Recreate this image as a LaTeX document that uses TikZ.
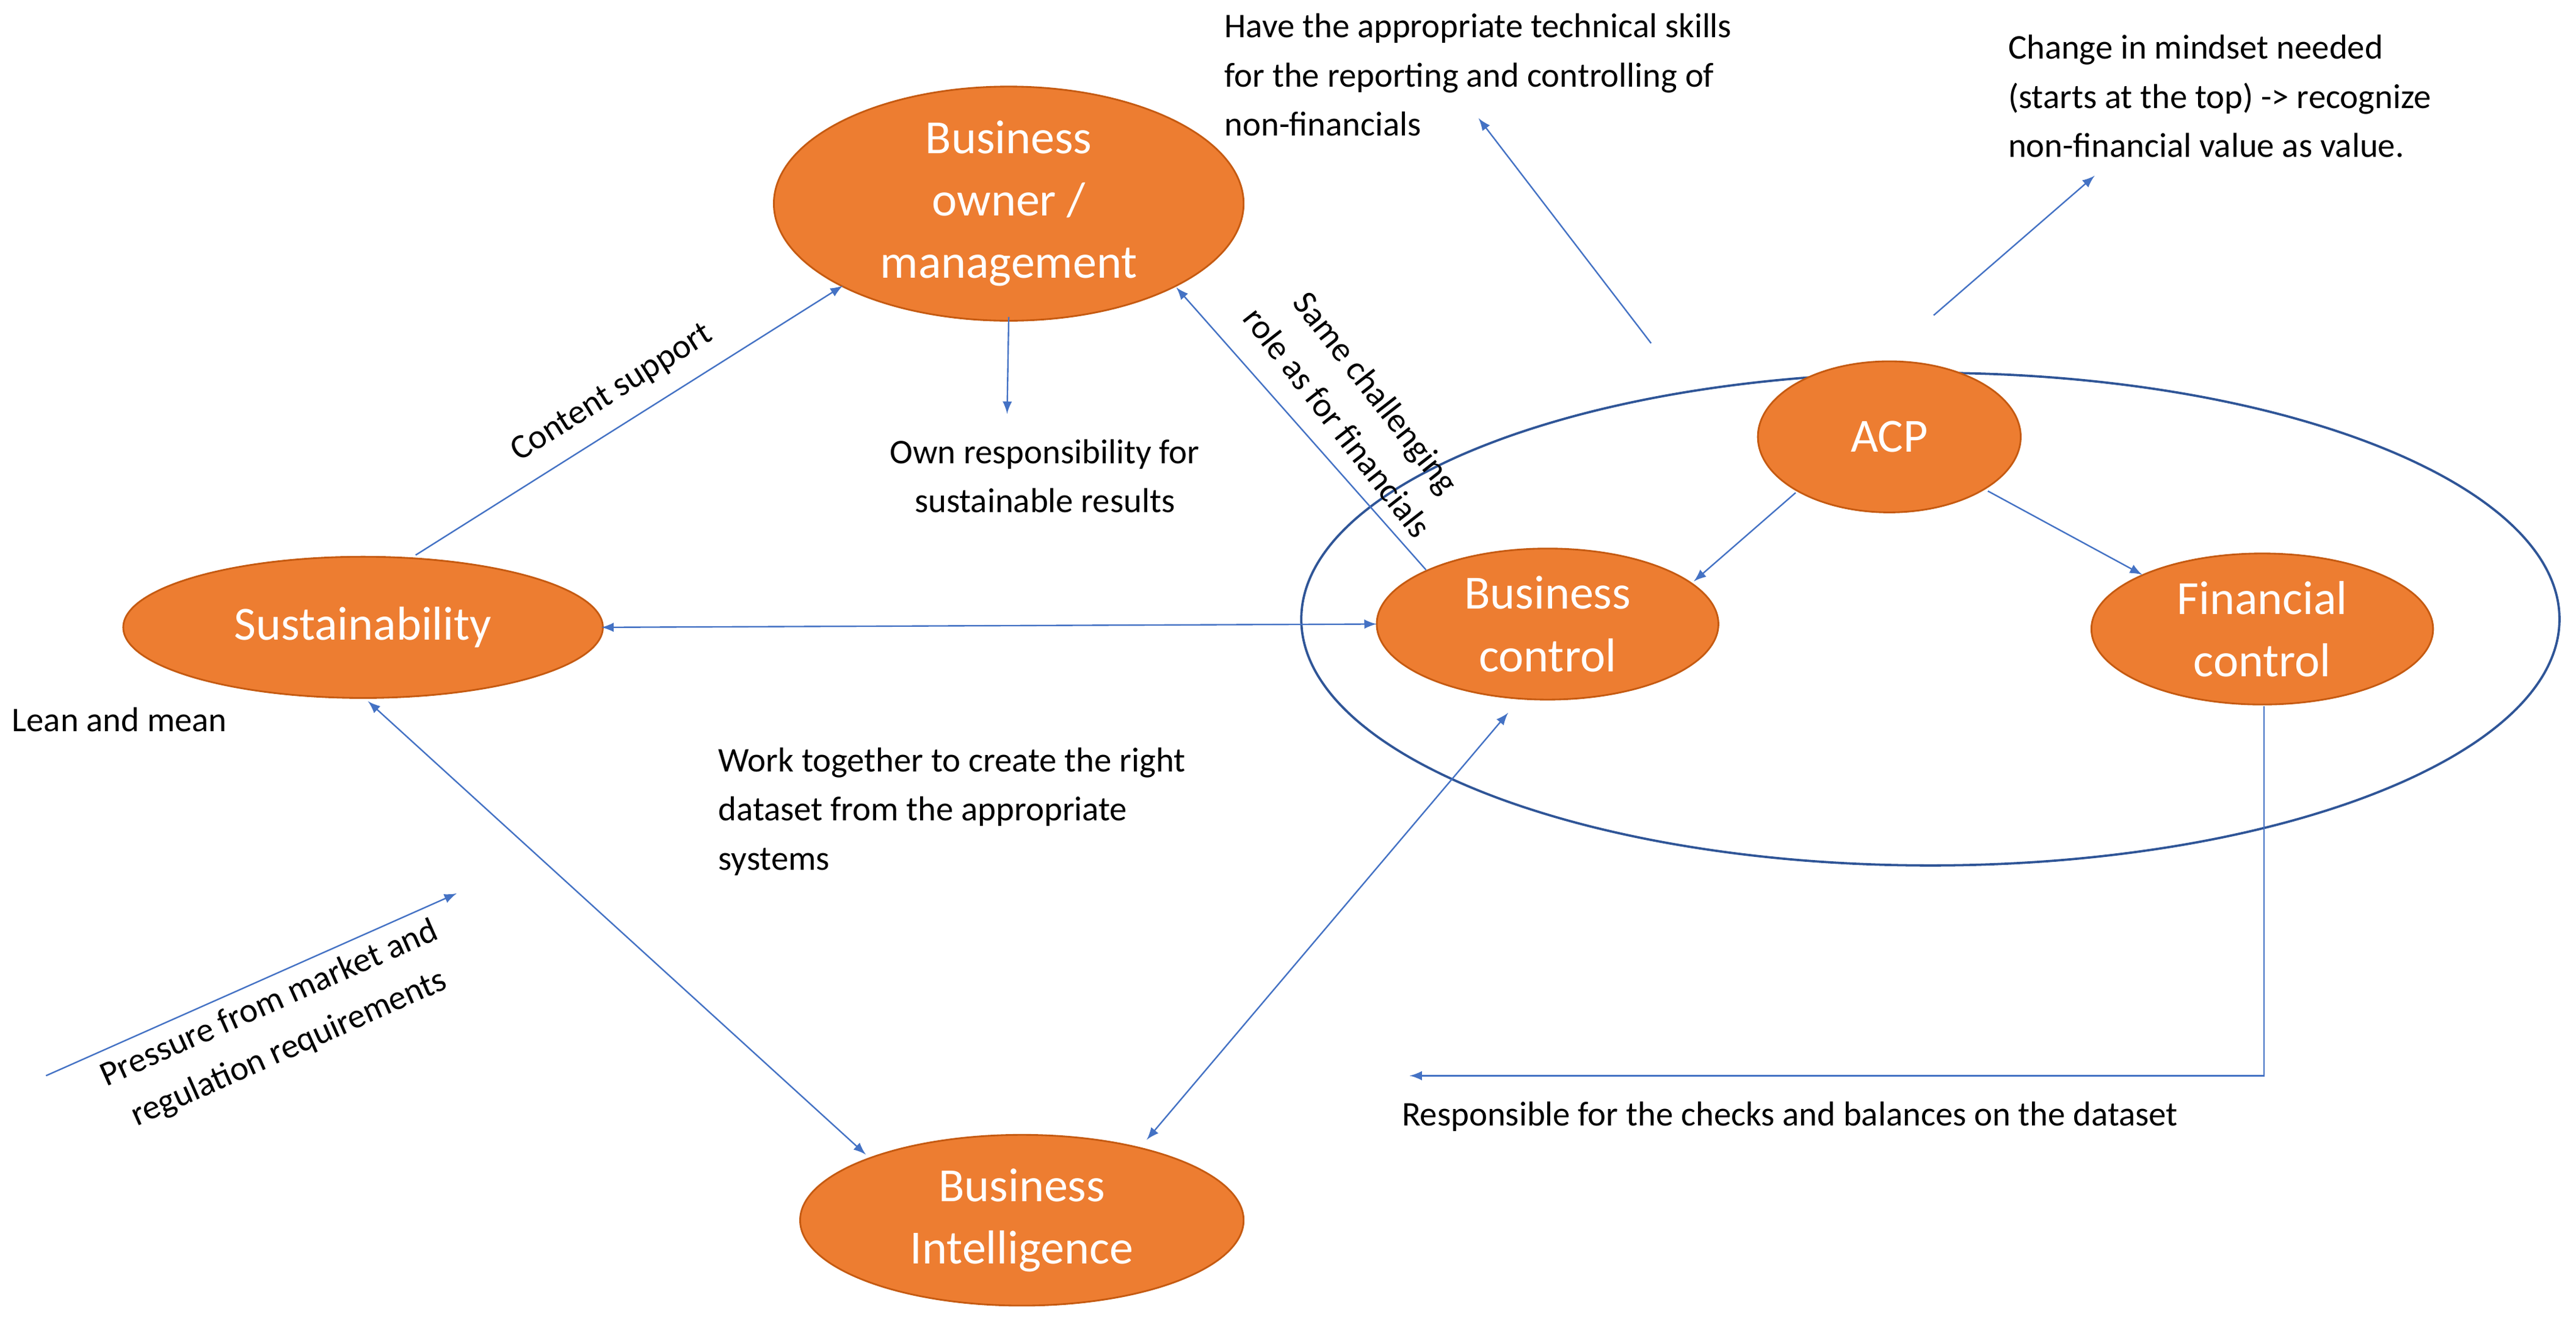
\documentclass[tikz,border=0pt]{standalone}
\usepackage{fontspec}
\setmainfont{Carlito}
\usetikzlibrary{shapes.geometric}
\begin{document}
\begin{tikzpicture}[x=0.02cm,y=-0.02cm]
\definecolor{og}{HTML}{ED7D31}\definecolor{ogd}{HTML}{C55A11}\definecolor{bl}{HTML}{4472C4}\definecolor{dbl}{HTML}{2F5597}
\tikzset{
 ell/.style={draw=ogd,fill=og,ellipse,text=white,align=center,font=\fontsize{16.5}{21.6}\selectfont,inner sep=0pt,line width=0.6pt},
 arr/.style={draw=bl,line width=0.5pt,-latex},
 darr/.style={draw=bl,line width=0.5pt,latex-latex},
 lbl/.style={font=\fontsize{12}{17}\selectfont,align=left,inner sep=0pt}}
\useasboundingbox (0,0) rectangle (1568,803);
\node[draw=dbl,line width=0.8pt,ellipse,minimum width=15.32cm,minimum height=6cm,inner sep=0pt] (big) at (1175,377) {};
\node[ell,minimum width=5.72cm,minimum height=2.48cm] (bo) at (614,124) {Business\\owner /\\management};
\node[ell,minimum width=5.84cm,minimum height=1.72cm] (su) at (221,382) {Sustainability};
\node[ell,minimum width=4.16cm,minimum height=1.84cm] (bc) at (942,380) {Business\\control};
\node[ell,minimum width=3.2cm,minimum height=1.84cm] (acp) at (1150,266) {ACP};
\node[ell,minimum width=4.16cm,minimum height=1.84cm] (fc) at (1377,383) {Financial\\control};
\node[ell,minimum width=5.4cm,minimum height=2.08cm] (bi) at (622,743) {Business\\Intelligence};
\coordinate (a1) at (253,338); \coordinate (a2) at (513,174);
\draw[arr] (a1) -- node[sloped,above,lbl,inner sep=6pt]{Content support} (a2);
\coordinate (b1) at (614,193); \coordinate (b2) at (613,252);
\draw[arr] (b1) -- (b2);
\node[lbl,align=center] (own) at (636,290) {Own responsibility for\\sustainable results};
\coordinate (c1) at (868,347); \coordinate (c2) at (716,175);
\draw[arr] (c1) -- (c2);
\node[lbl,align=center,rotate=-52] (same) at (826,248) {Same challenging\\role as for financials};
\coordinate (d1) at (366,382); \coordinate (d2) at (838,380);
\draw[darr] (d1) -- (d2);
\coordinate (e1) at (224,427); \coordinate (e2) at (527,703);
\draw[darr] (e1) -- (e2);
\coordinate (f1) at (918,434); \coordinate (f2) at (698,694);
\draw[darr] (f1) -- (f2);
\coordinate (g1) at (1093,300); \coordinate (g2) at (1031,354);
\draw[arr] (g1) -- (g2);
\coordinate (h1) at (1210,299); \coordinate (h2) at (1304,350);
\draw[arr] (h1) -- (h2);
\coordinate (i1) at (1005,209); \coordinate (i2) at (900,72);
\draw[arr] (i1) -- (i2);
\node[lbl,anchor=north west] (tech) at (745,8) {Have the appropriate technical skills\\for the reporting and controlling of\\non-financials};
\coordinate (j1) at (1177,192); \coordinate (j2) at (1275,107);
\draw[arr] (j1) -- (j2);
\node[lbl,anchor=north west] (mind) at (1222,21) {Change in mindset needed\\(starts at the top) -> recognize\\non-financial value as value.};
\coordinate (k1) at (1378,430); \coordinate (k2) at (858,655);
\draw[arr] (k1) |- (k2);
\node[lbl,anchor=west] (resp) at (853,680) {Responsible for the checks and balances on the dataset};
\node[lbl,anchor=west] (lean) at (7,438) {Lean and mean};
\node[lbl,anchor=north west] (work) at (437,455) {Work together to create the right\\dataset from the appropriate\\systems};
\coordinate (p1) at (28,655); \coordinate (p2) at (278,544);
\draw[arr] (p1) -- (p2);
\node[lbl,align=center,rotate=24] (press) at (170,625) {Pressure from market and\\regulation requirements};
\end{tikzpicture}
\end{document}
